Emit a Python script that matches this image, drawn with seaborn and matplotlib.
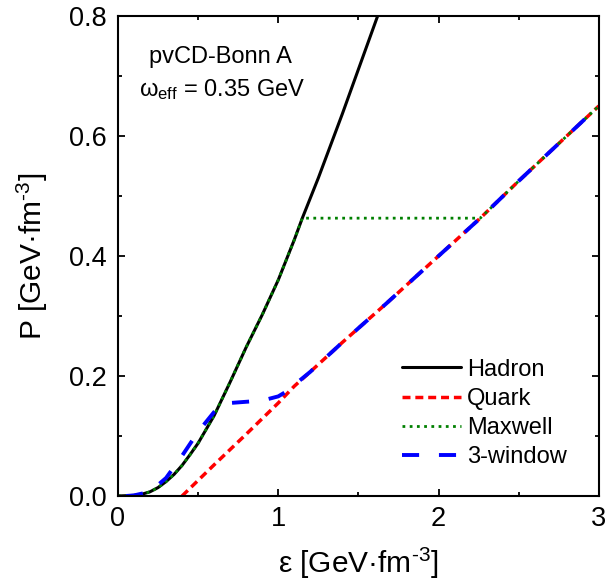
import pandas as pd
import matplotlib
matplotlib.use('Agg')
import matplotlib.pyplot as plt
import seaborn as sns

# values
hadron_e = [0.0, 0.1, 0.15, 0.2, 0.25, 0.3, 0.35, 0.4, 0.45, 0.5, 0.6, 0.7, 0.8, 0.9, 1.0, 1.1, 1.15, 1.25, 1.4, 1.62, 1.66]
hadron_p = [0.0, 0.001, 0.003, 0.007, 0.014, 0.024, 0.036, 0.051, 0.069, 0.088, 0.134, 0.19, 0.248, 0.302, 0.36, 0.427, 0.463, 0.53, 0.637, 0.8, 0.83]

quark_e = [0.40, 0.6, 0.8, 1.0, 1.1, 1.2, 1.4, 1.675, 2.0, 2.26, 2.5, 3.0]
quark_p = [0.0, 0.052, 0.103, 0.155, 0.183, 0.207, 0.256, 0.321, 0.40, 0.463, 0.525, 0.65]

maxwell_e = [0.0, 0.1, 0.15, 0.2, 0.25, 0.3, 0.35, 0.4, 0.45, 0.5, 0.6, 0.7, 0.8, 0.9, 1.0, 1.1, 1.15, 2.26, 2.5, 3.0]
maxwell_p = [0.0, 0.001, 0.003, 0.007, 0.014, 0.024, 0.036, 0.051, 0.069, 0.088, 0.134, 0.19, 0.248, 0.302, 0.36, 0.427, 0.463, 0.463, 0.525, 0.65]

window_e = [0.05, 0.1, 0.2, 0.3, 0.4, 0.5, 0.6, 0.65, 0.7, 0.8, 0.9, 1.0, 1.05, 1.1, 1.2, 1.4, 1.675, 2.0, 2.26, 2.5, 3.0]
window_p = [0.0, 0.001, 0.007, 0.03, 0.067, 0.107, 0.14, 0.15, 0.155, 0.157, 0.159, 0.166, 0.174, 0.185, 0.207, 0.256, 0.321, 0.40, 0.463, 0.525, 0.65]

sns.set_style('ticks')
plt.rcParams['font.family'] = ['Liberation Sans', 'DejaVu Sans']
plt.rcParams['mathtext.fontset'] = 'custom'
plt.rcParams['mathtext.rm'] = 'Liberation Sans'
plt.rcParams['mathtext.it'] = 'Liberation Sans'
plt.rcParams['text.color'] = 'black'
plt.rcParams['axes.labelcolor'] = 'black'
plt.rcParams['xtick.color'] = 'black'
plt.rcParams['ytick.color'] = 'black'
plt.rcParams['axes.edgecolor'] = 'black'

fig = plt.figure(figsize=(6.08, 5.84), dpi=100)
ax = fig.add_axes([0.194, 0.1507, 0.791, 0.822])

sns.lineplot(x=hadron_e, y=hadron_p, ax=ax, color='black', lw=2.2,
             sort=False, estimator=None, label='Hadron')
sns.lineplot(x=quark_e, y=quark_p, ax=ax, color='#ff0000', lw=2.5,
             linestyle=(0, (2.3, 1.4)), sort=False, estimator=None, label='Quark')
sns.lineplot(x=maxwell_e, y=maxwell_p, ax=ax, color='#008000', lw=2.0,
             linestyle=(0, (1, 1.6)), sort=False, estimator=None, label='Maxwell')
sns.lineplot(x=window_e, y=window_p, ax=ax, color='#0000ff', lw=2.8,
             linestyle=(0, (4.4, 5.1)), sort=False, estimator=None, label='3-window')

ax.set_xlim(0, 3)
ax.set_ylim(0, 0.8)
ax.set_xticks([0, 1, 2, 3])
ax.set_xticks([0.5, 1.5, 2.5], minor=True)
ax.set_yticks([0.0, 0.2, 0.4, 0.6, 0.8])
ax.set_yticks([0.1, 0.3, 0.5, 0.7], minor=True)
ax.set_yticklabels(['0.0', '0.2', '0.4', '0.6', '0.8'])
ax.tick_params(which='both', direction='in', top=True, right=True, width=1.3, labelsize=19.5)
ax.tick_params(which='major', length=5)
ax.tick_params(which='minor', length=3)
ax.tick_params(axis='x', pad=7)
ax.tick_params(axis='y', pad=8)
for s in ax.spines.values():
    s.set_linewidth(1.5)

ax.set_xlabel('ε [GeV·fm$^{\\mathregular{\u2010}3}$]', fontsize=21.5, labelpad=10)
ax.set_ylabel('P [GeV·fm$^{\\mathregular{\u2010}3}$]', fontsize=21.5, labelpad=14)

ax.text(0.64, 0.732, 'pvCD-Bonn A', fontsize=17, ha='center', va='center')
ax.text(0.65, 0.677, 'ω$_{\\mathregular{eff}}$ = 0.35 GeV', fontsize=17, ha='center', va='center')

leg = ax.legend(loc='upper left', bbox_to_anchor=(0.59, 0.286), frameon=False, fontsize=17,
                handlelength=2.5, handletextpad=0.25, labelspacing=0.3,
                borderpad=0, borderaxespad=0)

fig.savefig('out.png', dpi=100)
